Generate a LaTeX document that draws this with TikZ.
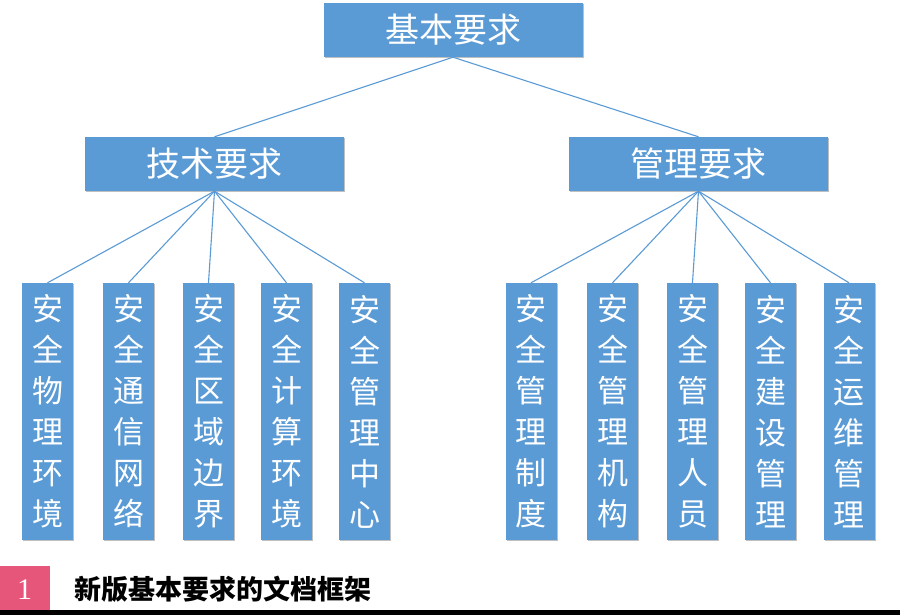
\documentclass[tikz,border=0pt]{standalone}
\usepackage{fontspec}
\setmainfont{Noto Sans CJK SC}
\newfontfamily\numfont{Liberation Serif}
\usetikzlibrary{shadows}
\definecolor{boxblue}{HTML}{5B9BD5}
\definecolor{linkblue}{HTML}{5B9BD5}
\definecolor{capred}{HTML}{E6557A}
\begin{document}
\begin{tikzpicture}[x=1pt,y=-1pt,
  bbox/.style={fill=boxblue, draw=none, inner sep=0pt, text=white,
    drop shadow={shadow xshift=1.2pt, shadow yshift=-1.2pt, fill=black, opacity=0.25}},
  hbox/.style={bbox, minimum width=259pt, minimum height=54pt, font=\fontsize{34}{40}\selectfont},
  vbox/.style={bbox, minimum width=51pt, minimum height=257pt, align=center, font=\fontsize{31}{41}\selectfont},
  link/.style={draw=linkblue, line width=1.1pt}
]
\useasboundingbox (0,0) rectangle (900,615);
\fill[white] (0,0) rectangle (900,615);

\node[hbox] (root) at (453,30) {基本要求};
\node[hbox] (tech) at (214.5,164) {技术要求};
\node[hbox] (mgmt) at (698.5,164) {管理要求};

\node[vbox] (t1) at (47.5,411.5) {安\\全\\物\\理\\环\\境};
\node[vbox] (t2) at (128.5,411.5) {安\\全\\通\\信\\网\\络};
\node[vbox] (t3) at (208.5,411.5) {安\\全\\区\\域\\边\\界};
\node[vbox] (t4) at (286.5,411.5) {安\\全\\计\\算\\环\\境};
\node[vbox] (t5) at (364.5,411.5) {安\\全\\管\\理\\中\\心};

\node[vbox] (m1) at (531,411.5) {安\\全\\管\\理\\制\\度};
\node[vbox] (m2) at (612.5,411.5) {安\\全\\管\\理\\机\\构};
\node[vbox] (m3) at (692.5,411.5) {安\\全\\管\\理\\人\\员};
\node[vbox] (m4) at (770.5,411.5) {安\\全\\建\\设\\管\\理};
\node[vbox] (m5) at (849,411.5) {安\\全\\运\\维\\管\\理};

\draw[link] (root.south) -- (tech.north);
\draw[link] (root.south) -- (mgmt.north);
\foreach \n in {t1,t2,t3,t4,t5} \draw[link] (tech.south) -- (\n.north);
\foreach \n in {m1,m2,m3,m4,m5} \draw[link] (mgmt.south) -- (\n.north);

\node[fill=capred, inner sep=0pt, minimum width=50pt, minimum height=44pt] (num) at (25,588) {};
\node[inner sep=0pt, text=white, font=\numfont\fontsize{30}{32}\selectfont] (numtxt) at (24.5,590) {1};
\node[anchor=west, inner sep=0pt, font=\bfseries\fontsize{27}{30}\selectfont] (cap) at (74,589) {新版基本要求的文档框架};
\fill[black] (0,610) rectangle (900,615);
\end{tikzpicture}
\end{document}
